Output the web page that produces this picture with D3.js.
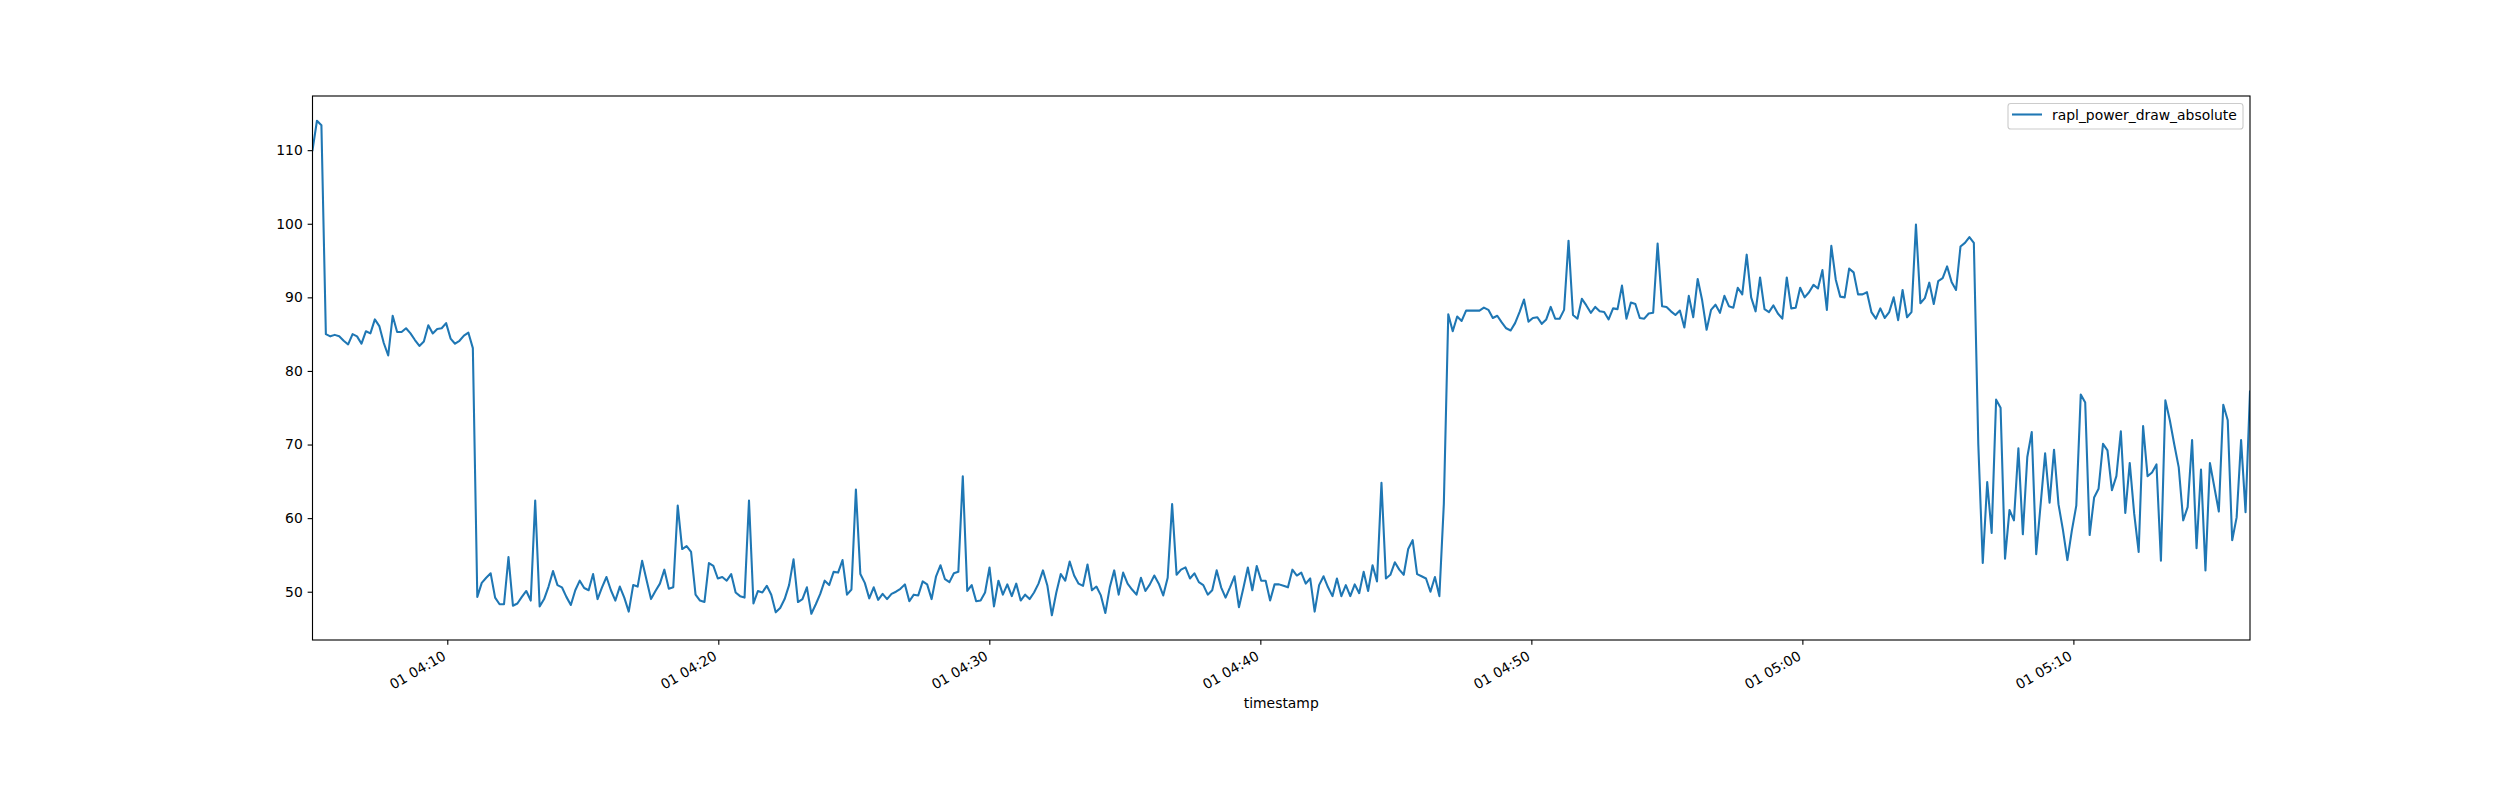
<!DOCTYPE html>
<html><head><meta charset="utf-8">
<script src="https://cdn.jsdelivr.net/npm/d3@7/dist/d3.min.js"></script>
<style>body{margin:0;background:#fff}svg{display:block}text{font-family:"DejaVu Sans",sans-serif}</style>
</head><body>
<svg id="chart" width="2500" height="800"></svg>
<script>
// ---- data ----
const seriesName = "rapl_power_draw_absolute";
const xLabel = "timestamp";
const startTime = "2023-01-01T04:05:01.6Z";
const endTime = "2023-01-01T05:16:31Z";
const yTicks = [50, 60, 70, 80, 90, 100, 110];
const values = [
110.0, 114.0, 113.4,
85.0, 84.7, 84.9, 84.7, 84.1, 83.6, 85.0, 84.7, 83.7, 85.4, 85.1, 87.0, 86.1, 83.8, 82.1, 87.5, 85.3, 85.3, 85.8, 85.1, 84.2, 83.4, 84.0, 86.2, 85.1, 85.7, 85.8, 86.5, 84.4, 83.7, 84.1, 84.8, 85.2, 83.1,
49.3, 51.2, 51.9, 52.5, 49.2, 48.3, 48.3, 54.7, 48.1, 48.4, 49.3, 50.1, 48.8, 62.4, 48.0, 49.0, 50.7, 52.8, 50.9, 50.6, 49.3, 48.2, 50.2, 51.5, 50.5, 50.2, 52.4, 49.0, 50.6, 52.0, 50.2, 48.8, 50.7, 49.2, 47.3,
50.9, 50.7, 54.2, 51.6, 49.0, 50.1, 51.1, 53.0, 50.4, 50.6,
61.7, 55.8, 56.2, 55.4, 49.6, 48.8, 48.6, 53.9, 53.5, 51.8,
52.0, 51.5, 52.4, 49.9, 49.4, 49.2, 62.4, 48.4, 50.1, 49.9,
50.8, 49.6, 47.2, 47.8, 49.0, 50.9, 54.4, 48.6, 49.0, 50.6,
47.0, 48.3, 49.7, 51.5, 50.9, 52.7, 52.6, 54.3, 49.6, 50.3,
63.9, 52.4, 51.2, 49.1, 50.6, 48.9, 49.7, 49.0, 49.7, 50.0,
50.4, 51.0, 48.7, 49.6, 49.5, 51.4, 51.0, 49.0, 52.1, 53.6,
51.7, 51.3,
52.5, 52.7, 65.7, 50.1, 50.9, 48.7, 48.8, 49.9, 53.3, 48.0,
51.5, 49.6, 51.0, 49.4, 51.1, 48.8, 49.6, 49.0, 49.9, 51.1,
52.9, 50.8, 46.8, 49.9, 52.4, 51.5, 54.1, 52.2, 51.1, 50.8,
53.7, 50.2, 50.7, 49.5, 47.1, 50.6, 52.9, 49.6, 52.6, 51.1,
50.3, 49.6, 51.9, 50.1, 51.0, 52.2, 51.1, 49.5, 51.9, 61.9,
52.3, 53.0, 53.3, 51.8, 52.5, 51.3, 50.9, 49.6, 50.2, 52.9,
50.6, 49.2, 50.6, 52.1, 47.9, 50.5, 53.3, 50.2, 53.5, 51.5,
51.5, 48.8,
51.0, 51.0, 50.8, 50.6, 53.0, 52.2, 52.6, 51.1, 51.8, 47.3,
50.9, 52.1, 50.6, 49.4, 51.8, 49.4, 50.9, 49.4, 51.0, 49.8,
52.7, 50.1, 53.6, 51.4, 64.8, 51.8, 52.3, 54.0, 53.0, 52.3,
55.8, 57.0, 52.4, 52.1, 51.8, 50.0, 52.0, 49.4, 61.9,
87.7, 85.4, 87.4, 86.8, 88.2, 88.2, 88.2, 88.2, 88.6, 88.3,
87.2, 87.5, 86.6, 85.8, 85.5, 86.5, 88.0, 89.7, 86.7, 87.2,
87.3, 86.4, 87.0, 88.7, 87.1, 87.1, 88.3, 97.7, 87.6, 87.1,
89.8, 88.9, 87.9, 88.7, 88.1, 88.0, 87.0, 88.5, 88.4, 91.6,
87.1, 89.3, 89.1, 87.2, 87.1, 87.8, 87.9, 97.3, 88.8, 88.7,
88.1, 87.6, 88.2, 85.9, 90.2, 87.3, 92.5, 89.6, 85.6, 88.3,
89.0, 87.9, 90.2, 88.8, 88.6, 91.3, 90.4, 95.8, 90.0, 88.1,
92.7, 88.4, 88.0, 88.9, 87.8, 87.1, 92.7, 88.5, 88.6, 91.3,
90.0, 90.7, 91.7, 91.2, 93.7, 88.3, 97.0, 92.4, 90.1, 90.0,
93.9, 93.4, 90.4, 90.4, 90.7, 88.0, 87.1, 88.5, 87.2, 88.0,
90.0, 86.9, 91.0, 87.3, 88.0, 99.9, 89.2, 89.9, 92.0, 89.1,
92.2, 92.6, 94.2, 92.1, 91.0, 96.9, 97.4, 98.2, 97.4,
70.0, 53.9, 64.9, 58.0, 76.1, 75.0, 54.5, 61.1, 59.7, 69.5,
57.8, 68.3, 71.7, 55.1, 61.9, 68.8, 62.1, 69.3, 61.9, 58.4,
54.3, 58.3, 61.7, 76.8, 75.7, 57.7, 62.8, 64.0, 70.1, 69.2,
63.8, 65.7, 71.8, 60.7, 67.5, 60.6, 55.4, 72.5, 65.7, 66.2,
67.3, 54.2, 76.0, 73.3, 70.0, 66.9, 59.7, 61.5, 70.6, 55.9,
66.6, 52.9, 67.5, 64.2, 60.9, 75.4, 73.3, 57.0, 60.1, 70.6,
60.8, 77.2
];

// ---- timestamps (regular sampling between first and last reading) ----
const t0 = Date.parse(startTime), t1 = Date.parse(endTime);
const timestamps = values.map((v, i) => new Date(t0 + (t1 - t0) * i / (values.length - 1)));
const data = values.map((v, i) => ({t: timestamps[i], v}));

// ---- layout ----
const W = 2500, H = 800;
const m = {left: 312.5, right: 2250, top: 96, bottom: 640};
const svg = d3.select("#chart");
svg.append("rect").attr("width", W).attr("height", H).attr("fill", "#fff");

const x = d3.scaleUtc().domain([timestamps[0], timestamps[timestamps.length - 1]]).range([m.left, m.right]);
const [vmin, vmax] = d3.extent(values);
const pad = (vmax - vmin) * 0.05;
const y = d3.scaleLinear().domain([vmin - pad, vmax + pad]).range([m.bottom, m.top]);

const fs = 13.9;
const tickLen = 4.86;

// line
svg.append("defs").append("clipPath").attr("id", "clip")
  .append("rect").attr("x", m.left).attr("y", m.top).attr("width", m.right - m.left).attr("height", m.bottom - m.top);
svg.append("path").datum(data)
  .attr("clip-path", "url(#clip)")
  .attr("fill", "none").attr("stroke", "#1f77b4").attr("stroke-width", 2.08)
  .attr("stroke-linejoin", "round").attr("stroke-linecap", "square")
  .attr("d", d3.line().x(d => x(d.t)).y(d => y(d.v)));

// y axis
const yAxis = svg.append("g").attr("transform", `translate(${m.left},0)`)
  .call(d3.axisLeft(y).tickValues(yTicks).tickSize(tickLen).tickPadding(4.86).tickFormat(d3.format("d")));
yAxis.select(".domain").remove();
yAxis.selectAll("line").attr("stroke", "#000").attr("stroke-width", 1.11);
yAxis.selectAll("text").attr("font-size", fs).attr("fill", "#000").attr("font-family", "DejaVu Sans");

// x axis
const xTicks = x.ticks(d3.utcMinute.every(10));
const fmt = d3.utcFormat("%d %H:%M");
const xAxis = svg.append("g").attr("transform", `translate(0,${m.bottom})`)
  .call(d3.axisBottom(x).tickValues(xTicks).tickSize(tickLen).tickFormat(fmt));
xAxis.select(".domain").remove();
xAxis.selectAll("line").attr("stroke", "#000").attr("stroke-width", 1.11);
xAxis.selectAll("text")
  .attr("font-size", fs).attr("fill", "#000").attr("font-family", "DejaVu Sans")
  .attr("text-anchor", "end").attr("dy", null).attr("y", null)
  .attr("dominant-baseline", "hanging")
  .attr("transform", `translate(-6,${tickLen + 4.86}) rotate(-30)`);

// frame
svg.append("rect").attr("x", m.left).attr("y", m.top)
  .attr("width", m.right - m.left).attr("height", m.bottom - m.top)
  .attr("fill", "none").attr("stroke", "#000").attr("stroke-width", 1.11);

// x label
svg.append("text").attr("x", (m.left + m.right) / 2).attr("y", 708)
  .attr("text-anchor", "middle").attr("font-size", fs).attr("fill", "#000").text(xLabel);

// legend
const lg = svg.append("g");
lg.append("rect").attr("x", 2008).attr("y", 103.5).attr("width", 235).attr("height", 25.5)
  .attr("rx", 2.8).attr("fill", "#fff").attr("fill-opacity", 0.8)
  .attr("stroke", "#cccccc").attr("stroke-width", 1.11);
lg.append("line").attr("x1", 2012).attr("x2", 2042).attr("y1", 114.5).attr("y2", 114.5)
  .attr("stroke", "#1f77b4").attr("stroke-width", 2.08);
lg.append("text").attr("x", 2052).attr("y", 119.5).attr("font-size", fs).attr("fill", "#000").text(seriesName);
</script>
</body></html>
